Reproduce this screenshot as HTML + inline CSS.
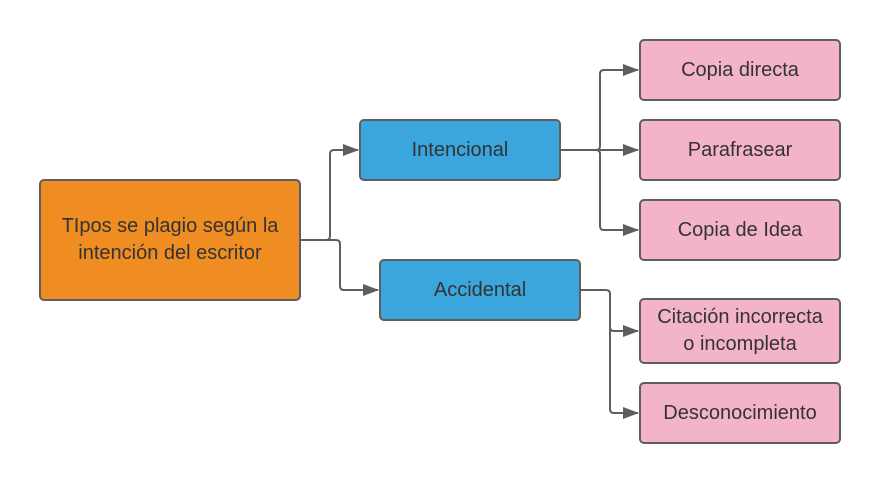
<!DOCTYPE html>
<html><head><meta charset="utf-8"><style>
body{margin:0;width:880px;height:483px;background:#fff;position:relative;overflow:hidden;font-family:"Liberation Sans",sans-serif;}
.b{position:absolute;box-sizing:border-box;border:2.5px solid #5e5e5e;border-radius:5px;display:flex;align-items:center;justify-content:center;text-align:center;color:#333;font-size:20px;line-height:27px;}
.o{background:#ef8d22;}
.bl{background:#3ba6dd;}
.p{background:#f4b4c8;}
svg{position:absolute;left:0;top:0;}
</style></head><body>
<svg width="880" height="483">
<defs><marker id="a" markerWidth="16" markerHeight="14" refX="15" refY="6" orient="auto" markerUnits="userSpaceOnUse"><path d="M0,0 L16,6 L0,12z" fill="#5e5e5e"/></marker></defs>
<g fill="none" stroke="#5e5e5e" stroke-width="2">
<path d="M300,240 H326 Q330,240 330,236 V154 Q330,150 334,150 H358" marker-end="url(#a)"/>
<path d="M300,240 H336 Q340,240 340,244 V286 Q340,290 344,290 H378" marker-end="url(#a)"/>
<path d="M560,150 H596 Q600,150 600,146 V74 Q600,70 604,70 H638" marker-end="url(#a)"/>
<path d="M560,150 H638" marker-end="url(#a)"/>
<path d="M596,150 Q600,150 600,154 V226 Q600,230 604,230 H638" marker-end="url(#a)"/>
<path d="M580,290 H606 Q610,290 610,294 V327 Q610,331 614,331 H638" marker-end="url(#a)"/>
<path d="M610,327 V409 Q610,413 614,413 H638" marker-end="url(#a)"/>
</g></svg>
<div class="b o" style="left:39px;top:179px;width:262px;height:122px;padding:0 4px">TIpos se plagio según la intención del escritor</div>
<div class="b bl" style="left:359px;top:119px;width:202px;height:62px">Intencional</div>
<div class="b bl" style="left:379px;top:259px;width:202px;height:62px">Accidental</div>
<div class="b p" style="left:639px;top:39px;width:202px;height:62px">Copia directa</div>
<div class="b p" style="left:639px;top:119px;width:202px;height:62px">Parafrasear</div>
<div class="b p" style="left:639px;top:199px;width:202px;height:62px">Copia de Idea</div>
<div class="b p" style="left:639px;top:298px;width:202px;height:66px">Citación incorrecta<br>o incompleta</div>
<div class="b p" style="left:639px;top:382px;width:202px;height:62px">Desconocimiento</div>
</body></html>
